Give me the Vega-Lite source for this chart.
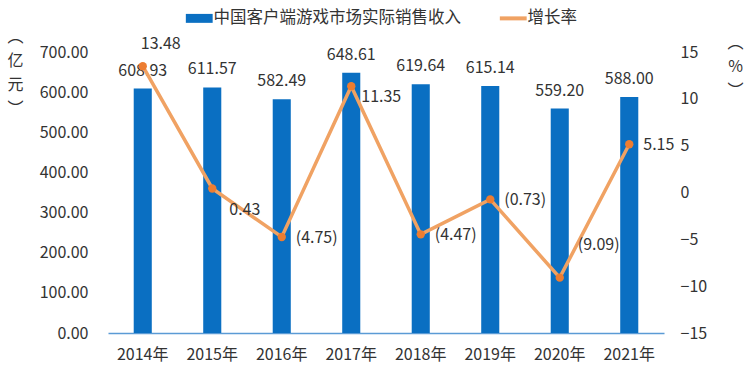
{
  "$schema": "https://vega.github.io/schema/vega-lite/v6.json",
  "width": 556,
  "height": 281,
  "autosize": {"type": "none"},
  "padding": {"left": 108, "top": 52, "right": 86, "bottom": 45},
  "background": "white",
  "config": {
    "font": "Noto Sans CJK SC",
    "view": {"stroke": null},
    "axis": {"labelFont": "Noto Sans CJK SC", "titleFont": "Noto Sans CJK SC", "labelColor": "#333333", "titleColor": "#333333", "grid": false, "ticks": false},
    "text": {"font": "Noto Sans CJK SC", "fontSize": 16, "color": "#333333"}
  },
  "data": {
    "values": [
      {"year": "2014年", "revenue": 608.93, "rate": 13.48},
      {"year": "2015年", "revenue": 611.57, "rate": 0.43},
      {"year": "2016年", "revenue": 582.49, "rate": -4.75},
      {"year": "2017年", "revenue": 648.61, "rate": 11.35},
      {"year": "2018年", "revenue": 619.64, "rate": -4.47},
      {"year": "2019年", "revenue": 615.14, "rate": -0.73},
      {"year": "2020年", "revenue": 559.20, "rate": -9.09},
      {"year": "2021年", "revenue": 588.00, "rate": 5.15}
    ]
  },
  "transform": [
    {"calculate": "datum.rate < 0 ? '(' + format(-datum.rate, '.2f') + ')' : format(datum.rate, '.2f')", "as": "rateLabel"}
  ],
  "encoding": {
    "x": {
      "field": "year", "type": "ordinal", "sort": null,
      "scale": {"paddingInner": 0.74, "paddingOuter": 0.37},
      "axis": {"title": null, "labelAngle": 0, "labelFontSize": 16, "labelPadding": 13, "domainColor": "#5b9bd5", "domainWidth": 1.5}
    }
  },
  "layer": [
    {
      "encoding": {
        "y": {
          "field": "revenue", "type": "quantitative",
          "scale": {"domain": [0, 700], "nice": false},
          "axis": {
            "values": [0, 100, 200, 300, 400, 500, 600, 700], "format": ".2f",
            "labelFontSize": 16, "labelPadding": 20, "domain": false,
            "title": ["︵", "亿", "元", "︶"], "titleAngle": 0, "titleFontSize": 16, "titleFontWeight": "normal",
            "titleX": -93, "titleY": -24, "titleAlign": "center", "titleBaseline": "top", "titleLineHeight": 24
          }
        }
      },
      "layer": [
        {
          "mark": {"type": "bar", "color": "#0a6fc2"},
          "encoding": {
            "color": {
              "datum": "中国客户端游戏市场实际销售收入", "type": "nominal",
              "scale": {"domain": ["中国客户端游戏市场实际销售收入", "增长率"], "range": ["#0a6fc2", "#F0A263"]},
              "legend": {
                "title": null, "orient": "none", "direction": "horizontal",
                "legendX": 83, "legendY": -42,
                "labelFontSize": 16.5, "labelFont": "Noto Sans CJK SC", "labelColor": "#333333", "labelLimit": 400,
                "symbolSize": 320, "columnPadding": 30, "labelOffset": 6,
                "encode": {
                  "symbols": {
                    "update": {
                      "shape": {"signal": "datum.value === '增长率' ? 'M-1.5,0H1.5' : 'M-1.5,-0.5H1.5V0.5H-1.5Z'"},
                      "fill": {"signal": "datum.value === '增长率' ? 'transparent' : '#0a6fc2'"},
                      "stroke": {"signal": "datum.value === '增长率' ? '#F0A263' : '#0a6fc2'"},
                      "strokeWidth": {"signal": "datum.value === '增长率' ? 4 : 0"}
                    }
                  }
                }
              }
            }
          }
        },
        {
          "mark": {"type": "text", "baseline": "bottom", "dy": -10},
          "encoding": {"text": {"field": "revenue", "type": "quantitative", "format": ".2f"}}
        }
      ]
    },
    {
      "encoding": {
        "y": {
          "field": "rate", "type": "quantitative",
          "scale": {"domain": [-15, 15], "nice": false},
          "axis": {
            "orient": "right",
            "values": [-15, -10, -5, 0, 5, 10, 15],
            "labelFontSize": 16, "labelPadding": 16, "domain": false,
            "title": ["︵", "%", "︶"], "titleAngle": 0, "titleFontSize": 16, "titleFontWeight": "normal",
            "titleX": 71, "titleY": -18, "titleAlign": "center", "titleBaseline": "top", "titleLineHeight": 24
          }
        }
      },
      "layer": [
        {
          "mark": {"type": "line", "strokeWidth": 3.5},
          "encoding": {"color": {"datum": "增长率", "type": "nominal"}}
        },
        {
          "mark": {"type": "point", "filled": true, "size": 70, "color": "#ED7D31", "opacity": 1}
        },
        {
          "transform": [{"filter": "datum.year === '2014年'"}],
          "mark": {"type": "text", "align": "left", "baseline": "middle", "dx": -2, "dy": -22},
          "encoding": {"text": {"field": "rateLabel"}}
        },
        {
          "transform": [{"filter": "datum.year === '2015年'"}],
          "mark": {"type": "text", "align": "left", "baseline": "middle", "dx": 17, "dy": 22},
          "encoding": {"text": {"field": "rateLabel"}}
        },
        {
          "transform": [{"filter": "datum.year === '2020年'"}],
          "mark": {"type": "text", "align": "left", "baseline": "middle", "dx": 18, "dy": -33},
          "encoding": {"text": {"field": "rateLabel"}}
        },
        {
          "transform": [{"filter": "datum.year === '2017年'"}],
          "mark": {"type": "text", "align": "left", "baseline": "middle", "dx": 10, "dy": 11},
          "encoding": {"text": {"field": "rateLabel"}}
        },
        {
          "transform": [{"filter": "indexof(['2016年','2018年','2019年','2021年'], datum.year) >= 0"}],
          "mark": {"type": "text", "align": "left", "baseline": "middle", "dx": 14, "dy": 1},
          "encoding": {"text": {"field": "rateLabel"}}
        }
      ]
    }
  ],
  "resolve": {"scale": {"y": "independent"}}
}
